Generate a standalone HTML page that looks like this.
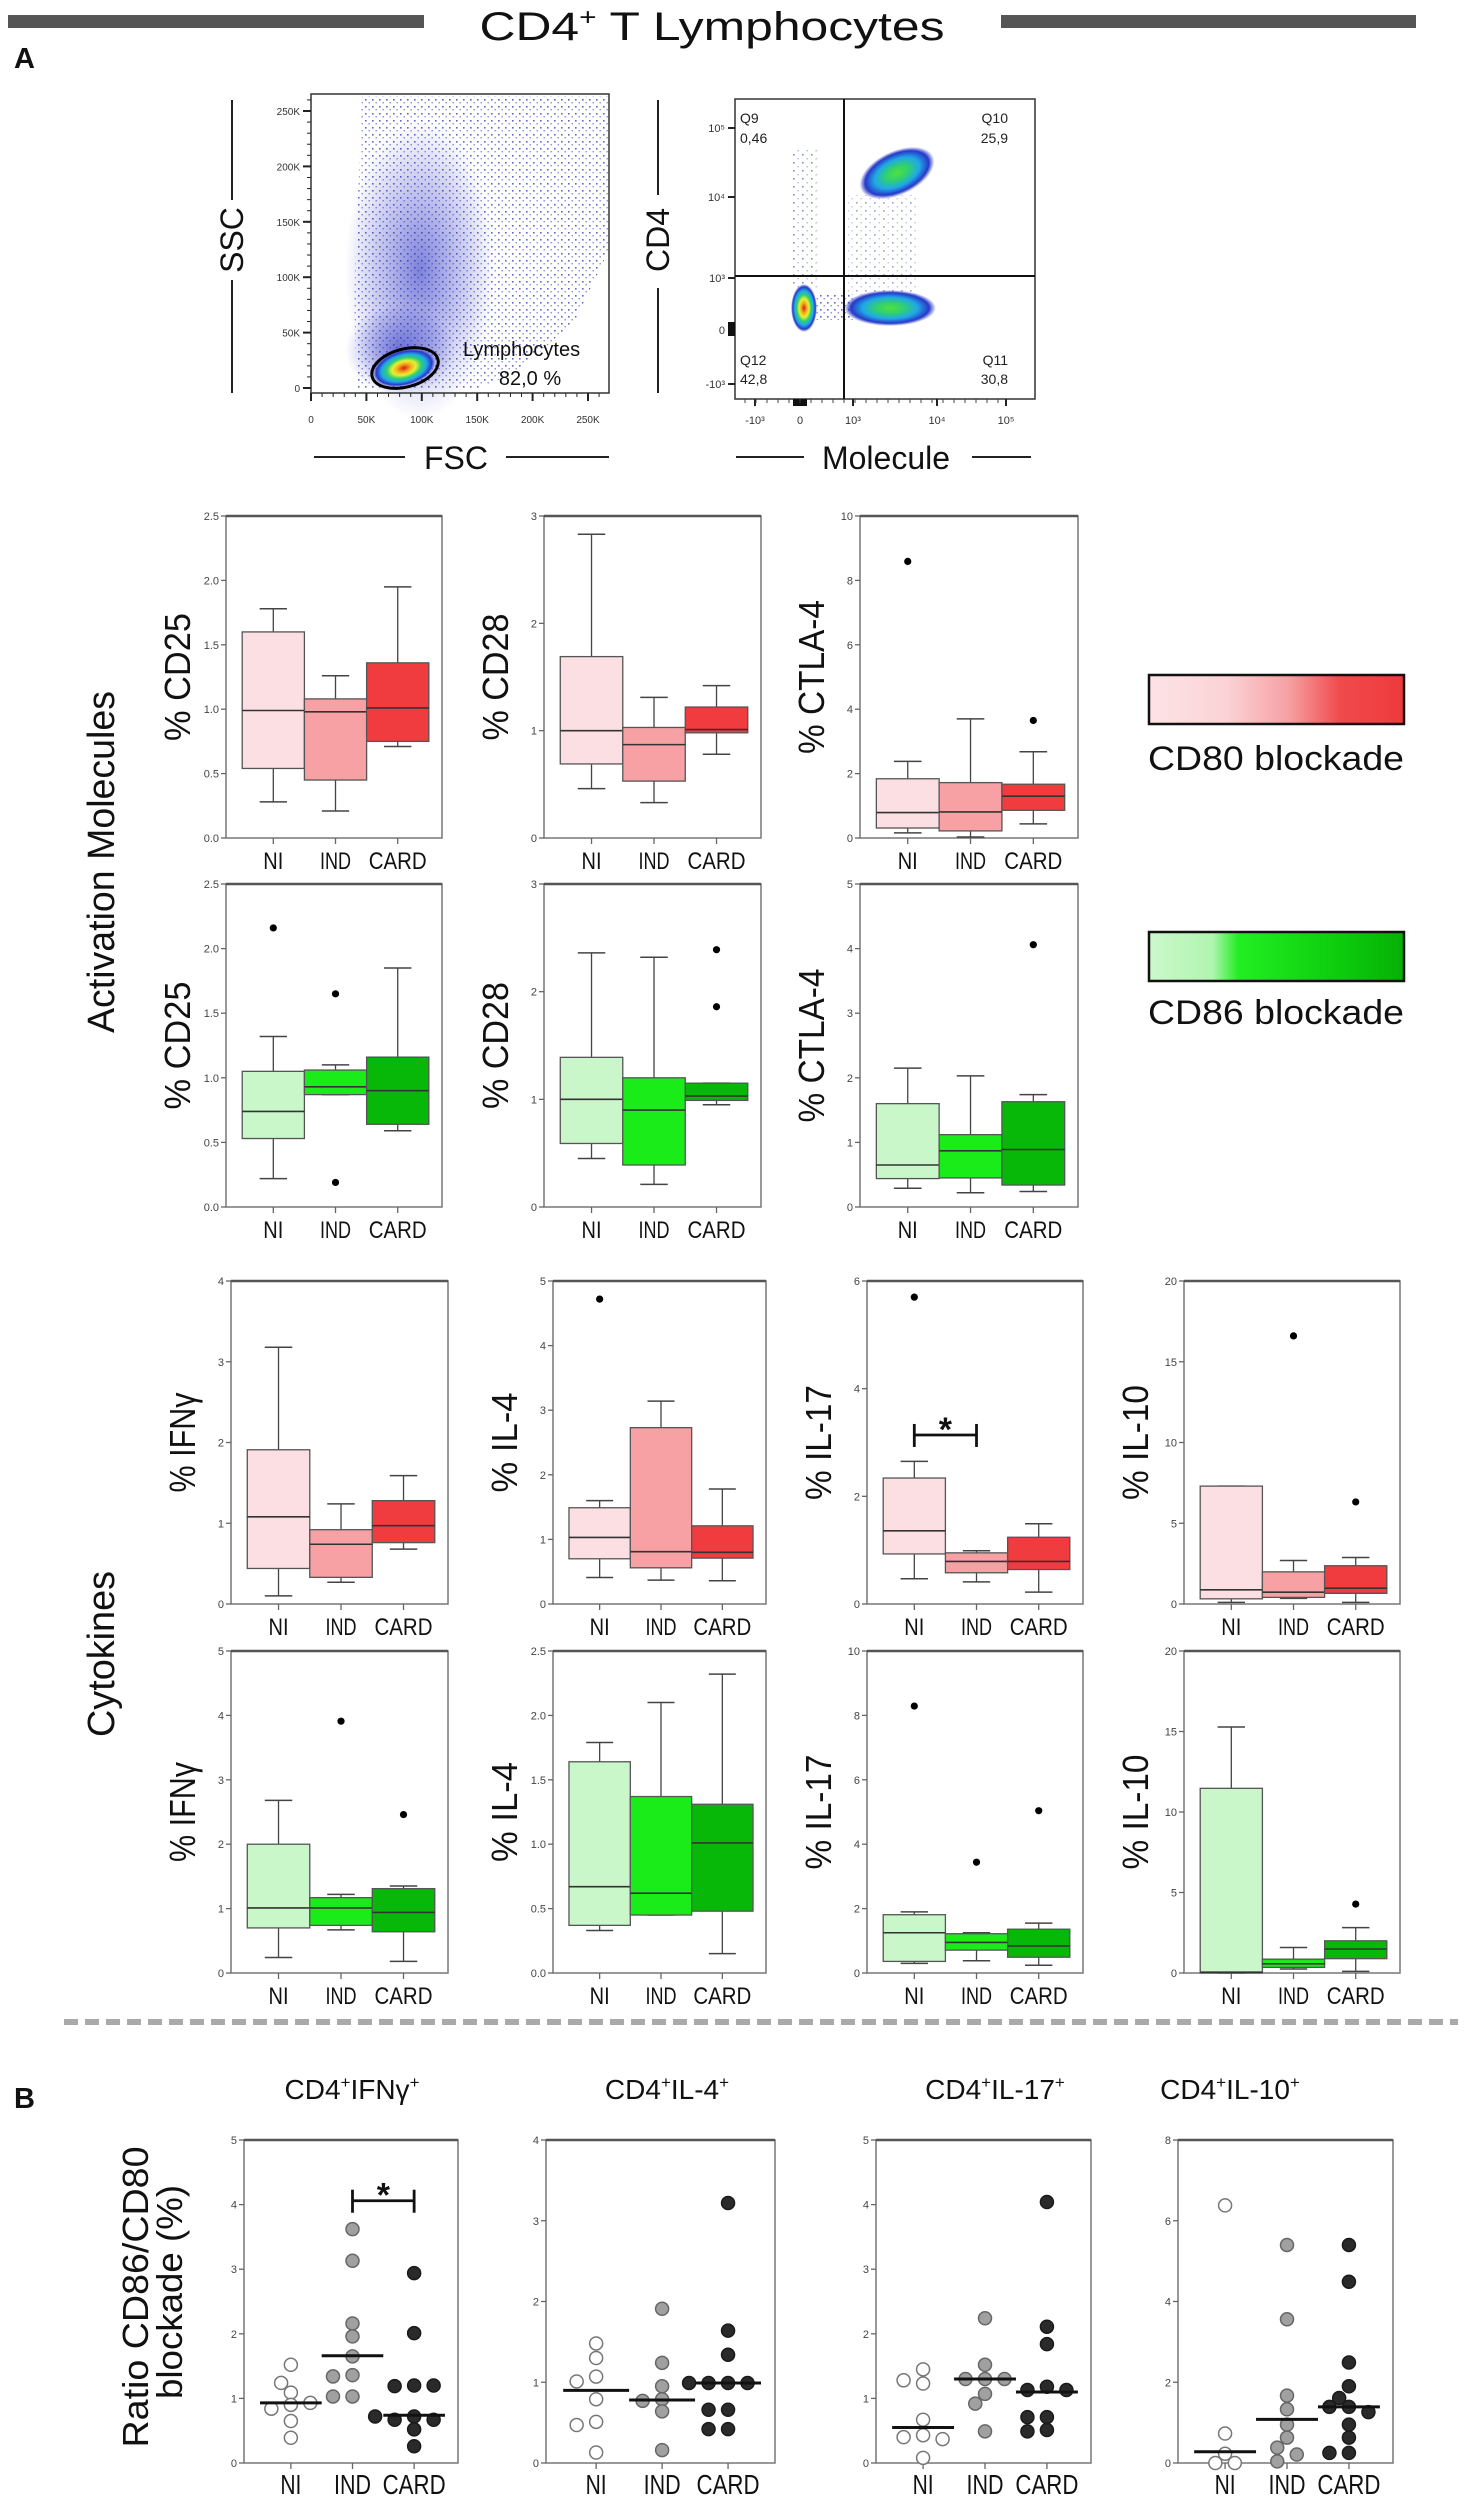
<!DOCTYPE html>
<html><head><meta charset="utf-8"><style>
html,body{margin:0;padding:0;background:#fff;}
svg{display:block;font-family:"Liberation Sans",sans-serif;}
</style></head><body>
<svg id="fig" width="1470" height="2500" viewBox="0 0 1470 2500" xmlns="http://www.w3.org/2000/svg">
<defs>
<radialGradient id="blob" cx="50%" cy="50%" r="50%">
<stop offset="0" stop-color="#e01a10"/><stop offset="0.22" stop-color="#f0b020"/><stop offset="0.38" stop-color="#e8f030"/>
<stop offset="0.55" stop-color="#30d070"/><stop offset="0.72" stop-color="#20a8e8"/><stop offset="0.88" stop-color="#2838c8"/><stop offset="1" stop-color="#2838c8" stop-opacity="0"/>
</radialGradient>
<radialGradient id="blobG" cx="50%" cy="50%" r="50%">
<stop offset="0" stop-color="#50e040"/><stop offset="0.3" stop-color="#30d070"/><stop offset="0.6" stop-color="#20a8e8"/>
<stop offset="0.85" stop-color="#2838c8"/><stop offset="1" stop-color="#2838c8" stop-opacity="0"/>
</radialGradient>
<radialGradient id="haze" cx="50%" cy="50%" r="50%">
<stop offset="0" stop-color="#2a30c0" stop-opacity="0.6"/><stop offset="1" stop-color="#2a30c0" stop-opacity="0"/>
</radialGradient>
<pattern id="dots" width="7" height="7" patternUnits="userSpaceOnUse">
<rect x="1" y="1" width="1.6" height="1.6" fill="#3440c0"/><rect x="4.5" y="4" width="1.4" height="1.4" fill="#6a70d8"/>
</pattern>
<pattern id="dots2" width="9" height="8" patternUnits="userSpaceOnUse">
<rect x="1" y="2" width="1.6" height="1.6" fill="#3440c0"/><rect x="5.5" y="6" width="1.4" height="1.4" fill="#7a80dd"/>
</pattern>
<linearGradient id="redLeg" x1="0" x2="1"><stop offset="0" stop-color="#fde3e5"/><stop offset="0.3" stop-color="#fbd3d6"/><stop offset="0.55" stop-color="#f6a0a3"/><stop offset="0.75" stop-color="#f04a4c"/><stop offset="1" stop-color="#ee3a3c"/></linearGradient>
<linearGradient id="greenLeg" x1="0" x2="1"><stop offset="0" stop-color="#ccf8cc"/><stop offset="0.25" stop-color="#b0f4b0"/><stop offset="0.35" stop-color="#22ee22"/><stop offset="0.75" stop-color="#0ccc0c"/><stop offset="1" stop-color="#06b006"/></linearGradient>
</defs>

<g>
<rect x="8" y="15" width="416" height="13" fill="#555"/>
<rect x="1001" y="15" width="415" height="13" fill="#555"/>
<text x="712" y="40" font-size="40" text-anchor="middle" textLength="465" lengthAdjust="spacingAndGlyphs" fill="#111">CD4<tspan font-size="24" dy="-15">+</tspan><tspan dy="15"> T Lymphocytes</tspan></text>
<text x="14" y="68" font-size="29" font-weight="bold" fill="#111">A</text>
<text x="14" y="2108" font-size="29" font-weight="bold" fill="#111">B</text>
</g>

<!-- Flow plot 1 -->
<g>
<polygon points="357,388 354,300 358,200 362,96 609,96 609,250 575,320 520,370 480,388" fill="url(#dots)" opacity="0.8"/>
<ellipse cx="420" cy="270" rx="75" ry="150" fill="url(#haze)"/>
<ellipse cx="400" cy="350" rx="55" ry="45" fill="url(#haze)"/>
<ellipse cx="404" cy="368" rx="32" ry="18" fill="url(#blob)" transform="rotate(-15 404 368)"/>
<ellipse cx="405" cy="368" rx="34" ry="19" fill="none" stroke="#000" stroke-width="3" transform="rotate(-15 405 368)"/>
<text x="463" y="356" font-size="20" fill="#111">Lymphocytes</text>
<text x="530" y="385" font-size="20" text-anchor="middle" fill="#111">82,0 %</text>
<rect x="311" y="94" width="298" height="299" fill="none" stroke="#333" stroke-width="1.5"/>
<g id="flow1axes"></g>
<line x1="232" y1="100" x2="232" y2="200" stroke="#222" stroke-width="2"/>
<line x1="232" y1="280" x2="232" y2="393" stroke="#222" stroke-width="2"/>
<text transform="translate(243 240) rotate(-90)" font-size="32" text-anchor="middle" fill="#111">SSC</text>
<line x1="314" y1="457" x2="405" y2="457" stroke="#222" stroke-width="2"/>
<line x1="506" y1="457" x2="609" y2="457" stroke="#222" stroke-width="2"/>
<text x="456" y="469" font-size="32" text-anchor="middle" fill="#111">FSC</text>
</g>

<!-- Flow plot 2 -->
<g>
<rect x="792" y="150" width="26" height="140" fill="url(#dots2)" opacity="0.6"/>
<rect x="848" y="195" width="70" height="100" fill="url(#dots2)" opacity="0.5"/>
<rect x="815" y="295" width="40" height="25" fill="url(#dots)" opacity="0.8"/>
<ellipse cx="897" cy="173" rx="40" ry="22" fill="url(#blobG)" transform="rotate(-25 897 173)"/>
<ellipse cx="890" cy="308" rx="46" ry="18" fill="url(#blobG)"/>
<ellipse cx="804" cy="308" rx="13" ry="24" fill="url(#blob)"/>
<rect x="735" y="99" width="300" height="300" fill="none" stroke="#333" stroke-width="1.5"/>
<line x1="844" y1="99" x2="844" y2="399" stroke="#111" stroke-width="2"/>
<line x1="735" y1="276" x2="1035" y2="276" stroke="#111" stroke-width="2"/>
<g font-size="14" fill="#222">
<text x="740" y="123">Q9</text><text x="740" y="143">0,46</text>
<text x="1008" y="123" text-anchor="end">Q10</text><text x="1008" y="143" text-anchor="end">25,9</text>
<text x="740" y="365">Q12</text><text x="740" y="384">42,8</text>
<text x="1008" y="365" text-anchor="end">Q11</text><text x="1008" y="384" text-anchor="end">30,8</text>
</g>
<g id="flow2axes"></g>
<line x1="658" y1="100" x2="658" y2="195" stroke="#222" stroke-width="2"/>
<line x1="658" y1="288" x2="658" y2="393" stroke="#222" stroke-width="2"/>
<text transform="translate(669 240) rotate(-90)" font-size="32" text-anchor="middle" fill="#111">CD4</text>
<line x1="736" y1="457" x2="804" y2="457" stroke="#222" stroke-width="2"/>
<line x1="972" y1="457" x2="1031" y2="457" stroke="#222" stroke-width="2"/>
<text x="886" y="469" font-size="32" text-anchor="middle" fill="#111">Molecule</text>
</g>

<!-- side labels & legends -->
<text transform="translate(114 862) rotate(-90)" font-size="38" text-anchor="middle" textLength="342" lengthAdjust="spacingAndGlyphs" fill="#111">Activation Molecules</text>
<text transform="translate(114 1654) rotate(-90)" font-size="38" text-anchor="middle" textLength="166" lengthAdjust="spacingAndGlyphs" fill="#111">Cytokines</text>
<text transform="translate(148 2297) rotate(-90)" font-size="36" text-anchor="middle" textLength="301" lengthAdjust="spacingAndGlyphs" fill="#111">Ratio CD86/CD80</text>
<text transform="translate(182 2292) rotate(-90)" font-size="36" text-anchor="middle" textLength="214" lengthAdjust="spacingAndGlyphs" fill="#111">blockade (%)</text>

<g>
<rect x="1149" y="675" width="255" height="49" fill="url(#redLeg)" stroke="#111" stroke-width="2.5"/>
<text x="1148" y="770" font-size="34" textLength="256" lengthAdjust="spacingAndGlyphs" fill="#111">CD80 blockade</text>
</g>
<g>
<rect x="1149" y="932" width="255" height="49" fill="url(#greenLeg)" stroke="#111" stroke-width="2.5"/>
<text x="1148" y="1024" font-size="34" textLength="256" lengthAdjust="spacingAndGlyphs" fill="#111">CD86 blockade</text>
</g>

<line x1="64" y1="2022" x2="1458" y2="2022" stroke="#aaa" stroke-width="6" stroke-dasharray="14 7"/>

<g font-size="28" fill="#111">
<text x="352" y="2099" text-anchor="middle">CD4<tspan font-size="17" dy="-11">+</tspan><tspan dy="11">IFNγ</tspan><tspan font-size="17" dy="-11">+</tspan></text>
<text x="667" y="2099" text-anchor="middle">CD4<tspan font-size="17" dy="-11">+</tspan><tspan dy="11">IL-4</tspan><tspan font-size="17" dy="-11">+</tspan></text>
<text x="995" y="2099" text-anchor="middle">CD4<tspan font-size="17" dy="-11">+</tspan><tspan dy="11">IL-17</tspan><tspan font-size="17" dy="-11">+</tspan></text>
<text x="1230" y="2099" text-anchor="middle">CD4<tspan font-size="17" dy="-11">+</tspan><tspan dy="11">IL-10</tspan><tspan font-size="17" dy="-11">+</tspan></text>
</g>
</svg>

<script>
// ---------- DATA ----------
const categories = ['NI', 'IND', 'CARD'];

// Activation molecules, CD80 blockade (whisker low, Q1, median, Q3, whisker high)
const cd25Cd80Stats = [[0.28,0.54,0.99,1.60,1.78],[0.21,0.45,0.98,1.08,1.26],[0.71,0.75,1.01,1.36,1.95]];
const cd25Cd80Outliers = [[],[],[]];
const cd28Cd80Stats = [[0.46,0.69,1.00,1.69,2.83],[0.33,0.53,0.87,1.03,1.31],[0.78,0.98,1.01,1.22,1.42]];
const cd28Cd80Outliers = [[],[],[]];
const ctla4Cd80Stats = [[0.16,0.31,0.79,1.84,2.38],[0.03,0.22,0.81,1.72,3.70],[0.44,0.86,1.30,1.67,2.68]];
const ctla4Cd80Outliers = [[8.59],[],[3.65]];
// Activation molecules, CD86 blockade
const cd25Cd86Stats = [[0.22,0.53,0.74,1.05,1.32],[0.87,0.87,0.93,1.06,1.10],[0.59,0.64,0.90,1.16,1.85]];
const cd25Cd86Outliers = [[2.16],[1.65,0.19],[]];
const cd28Cd86Stats = [[0.45,0.59,1.00,1.39,2.36],[0.21,0.39,0.90,1.20,2.32],[0.95,0.99,1.03,1.15,1.15]];
const cd28Cd86Outliers = [[],[],[2.39,1.86]];
const ctla4Cd86Stats = [[0.29,0.44,0.65,1.60,2.15],[0.22,0.45,0.87,1.12,2.03],[0.24,0.34,0.89,1.63,1.74]];
const ctla4Cd86Outliers = [[],[],[4.06]];
// Cytokines, CD80 blockade
const ifngCd80Stats = [[0.10,0.44,1.08,1.91,3.18],[0.27,0.33,0.74,0.92,1.24],[0.68,0.76,0.97,1.28,1.59]];
const ifngCd80Outliers = [[],[],[]];
const il4Cd80Stats = [[0.41,0.70,1.03,1.49,1.60],[0.37,0.56,0.81,2.73,3.14],[0.36,0.71,0.80,1.21,1.78]];
const il4Cd80Outliers = [[4.72],[],[]];
const il17Cd80Stats = [[0.47,0.93,1.36,2.34,2.65],[0.41,0.58,0.79,0.95,0.99],[0.22,0.64,0.79,1.24,1.49]];
const il17Cd80Outliers = [[5.70],[],[]];
const il10Cd80Stats = [[0.10,0.32,0.88,7.30,7.30],[0.35,0.41,0.73,1.99,2.69],[0.10,0.66,0.98,2.37,2.88]];
const il10Cd80Outliers = [[],[16.6],[6.32]];
// Cytokines, CD86 blockade
const ifngCd86Stats = [[0.24,0.70,1.01,2.00,2.68],[0.67,0.74,1.01,1.17,1.22],[0.18,0.64,0.94,1.31,1.35]];
const ifngCd86Outliers = [[],[3.91],[2.46]];
const il4Cd86Stats = [[0.33,0.37,0.67,1.64,1.79],[0.45,0.45,0.62,1.37,2.10],[0.15,0.48,1.01,1.31,2.32]];
const il4Cd86Outliers = [[],[],[]];
const il17Cd86Stats = [[0.30,0.36,1.25,1.81,1.90],[0.38,0.71,0.95,1.22,1.25],[0.24,0.49,0.84,1.36,1.55]];
const il17Cd86Outliers = [[8.29],[3.44],[5.04]];
const il10Cd86Stats = [[0.00,0.00,0.05,11.47,15.28],[0.25,0.35,0.57,0.86,1.58],[0.10,0.89,1.49,2.00,2.82]];
const il10Cd86Outliers = [[],[],[4.28]];

// Tick labels
const ticksCd25 = ['0.0','0.5','1.0','1.5','2.0','2.5'];
const ticksCd28 = ['0','1','2','3'];
const ticksCtla4Top = ['0','2','4','6','8','10'];
const ticks0to5 = ['0','1','2','3','4','5'];
const ticks0to4 = ['0','1','2','3','4'];
const ticksIl17Top = ['0','2','4','6'];
const ticksIl10 = ['0','5','10','15','20'];
const ticksIl4Bottom = ['0.0','0.5','1.0','1.5','2.0','2.5'];
const ticksIl17Bottom = ['0','2','4','6','8','10'];
const ticksRatioIl10 = ['0','2','4','6','8'];

// Section B: ratio CD86/CD80 per animal
const ratioIfngNI = [1.09,1.24,1.52,0.90,0.84,0.93,0.65,0.39];
const ratioIfngIND = [3.62,3.13,2.16,1.96,1.65,1.36,1.34,1.03,1.03];
const ratioIfngCARD = [2.94,2.01,1.20,1.19,1.20,0.72,0.67,0.67,0.72,0.52,0.26];
const ratioIfngMedians = [0.93,1.66,0.74];
const ratioIl4NI = [1.30,1.48,1.07,1.01,0.79,0.51,0.47,0.13];
const ratioIl4IND = [1.91,1.24,0.95,0.79,0.77,0.64,0.16];
const ratioIl4CARD = [3.22,1.64,1.34,0.99,0.99,0.99,0.99,0.66,0.66,0.42,0.42];
const ratioIl4Medians = [0.90,0.78,0.99];
const ratioIl17NI = [1.45,1.23,1.28,0.67,0.43,0.40,0.37,0.08];
const ratioIl17IND = [2.24,1.52,1.30,1.30,1.30,1.07,0.92,0.49];
const ratioIl17CARD = [4.04,2.11,1.84,1.18,1.13,1.13,0.71,0.71,0.51,0.49];
const ratioIl17Medians = [0.55,1.30,1.10];
const ratioIl10NI = [6.38,0.73,0.23,0.0,0.0];
const ratioIl10IND = [5.40,3.56,1.67,1.33,0.95,0.63,0.38,0.21,0.04];
const ratioIl10CARD = [5.40,4.49,2.49,1.90,1.61,1.39,1.39,1.26,0.95,0.63,0.25,0.25];
const ratioIl10Medians = [0.28,1.08,1.39];

// Flow axes ticks
const fscTicks = ['0','50K','100K','150K','200K','250K'];
const flowLogTickLabels = ['-10³','0','10³','10⁴','10⁵'];
const flowLogYPositions = [384,330,278,197,128];
const flowLogXPositions = [755,800,853,937,1006];

// ---------- DRAWING ----------
const NS = 'http://www.w3.org/2000/svg';
const svg = document.getElementById('fig');
function mk(tag, attrs, parent) {
  const e = document.createElementNS(NS, tag);
  for (const k in attrs) e.setAttribute(k, attrs[k]);
  (parent || svg).appendChild(e);
  return e;
}
const RED = ['#fcdfe2', '#f7a1a4', '#f03c3e'];
const GREEN = ['#c9f7c9', '#1aec1a', '#08b808'];

function frame(g, p, ticks) {
  const W = p.x1 - p.x0, H = p.y1 - p.y0;
  const vmax = parseFloat(ticks[ticks.length - 1]);
  const y = v => p.y1 - v / vmax * H;
  const bw = 0.288 * W;
  const cx = i => p.x0 + 0.075 * W + (i + 0.5) * bw;
  const fr = mk('rect', {x: p.x0, y: p.y0, width: W, height: H, fill: 'none', stroke: '#777', 'stroke-width': 1.5}, g);
  
  
  mk('line', {x1: p.x0, y1: p.y0, x2: p.x1, y2: p.y0, stroke: '#555', 'stroke-width': 2.5}, g);
  ticks.forEach(t => {
    const v = parseFloat(t);
    mk('line', {x1: p.x0 - 5, y1: y(v), x2: p.x0, y2: y(v), stroke: '#666', 'stroke-width': 1.3}, g);
    const tl = mk('text', {x: p.x0 - 7, y: y(v) + 4, 'font-size': 11, 'text-anchor': 'end', fill: '#444'}, g);
    tl.textContent = t;
    
    
  });
  categories.forEach((c, i) => {
    mk('line', {x1: cx(i), y1: p.y1, x2: cx(i), y2: p.y1 + 6, stroke: '#666', 'stroke-width': 1.3}, g);
    const lens = p.big ? [21, 37, 63] : [20, 31, 58];
    const cl = mk('text', {x: cx(i), y: p.y1 + 31, 'font-size': p.big ? 28 : 24, 'text-anchor': 'middle', fill: '#111', textLength: lens[i], lengthAdjust: 'spacingAndGlyphs'}, g);
    cl.textContent = c;
    
    
  });
  if (p.label) {
    const yl = mk('text', {transform: `translate(${p.x0 - 36} ${(p.y0 + p.y1) / 2}) rotate(-90)`, 'font-size': 36, 'text-anchor': 'middle', fill: '#111', textLength: p.labelLen, lengthAdjust: 'spacingAndGlyphs'}, g);
    yl.textContent = p.label;
    
    
  }
  return {y, cx, bw};
}

function boxPanel(p) {
  const g = mk('g', {});
  
  
  const {y, cx, bw} = frame(g, p, p.ticks);
  p.stats.forEach((s, i) => {
    const [wlo, q1, med, q3, whi] = s;
    const c = cx(i), cap = bw * 0.22;
    const bg = mk('g', {}, g);
    
    
    mk('line', {x1: c, y1: y(wlo), x2: c, y2: y(whi), stroke: '#444', 'stroke-width': 1.3}, bg);
    mk('line', {x1: c - cap, y1: y(whi), x2: c + cap, y2: y(whi), stroke: '#444', 'stroke-width': 1.5}, bg);
    mk('line', {x1: c - cap, y1: y(wlo), x2: c + cap, y2: y(wlo), stroke: '#444', 'stroke-width': 1.5}, bg);
    mk('rect', {x: c - bw / 2, y: y(q3), width: bw, height: Math.max(1, y(q1) - y(q3)), fill: p.colors[i], stroke: '#555', 'stroke-width': 1.3}, bg);
    mk('line', {x1: c - bw / 2, y1: y(med), x2: c + bw / 2, y2: y(med), stroke: '#333', 'stroke-width': 1.6}, bg);
    p.outliers[i].forEach(o => {
      const oc = mk('circle', {cx: c, cy: y(o), r: 3.6, fill: '#000'}, bg);
      
      
    });
  });
  if (p.sig) bracket(g, cx(p.sig[0]), cx(p.sig[1]), y(p.sig[2]));
}

function bracket(g, xa, xb, yy) {
  const bk = mk('g', {}, g);
  
  
  mk('line', {x1: xa, y1: yy, x2: xb, y2: yy, stroke: '#111', 'stroke-width': 2.8}, bk);
  mk('line', {x1: xa, y1: yy - 11, x2: xa, y2: yy + 12, stroke: '#111', 'stroke-width': 2.8}, bk);
  mk('line', {x1: xb, y1: yy - 11, x2: xb, y2: yy + 12, stroke: '#111', 'stroke-width': 2.8}, bk);
  const st = mk('text', {x: (xa + xb) / 2, y: yy + 6, 'font-size': 34, 'font-weight': 'bold', 'text-anchor': 'middle', fill: '#111'}, bk);
  st.textContent = '*';
  
  
}

function dotPanel(p) {
  const g = mk('g', {});
  
  
  const {y, cx, bw} = frame(g, p, p.ticks);
  const fills = ['#ffffff', '#a0a0a0', '#2a2a2a'];
  const strokes = ['#777', '#666', '#1a1a1a'];
  const r = 6.5;
  p.groups.forEach((vals, i) => {
    const c = cx(i);
    const placed = [];
    vals.forEach(v => {
      const py = y(v);
      let ox = c;
      const cands = [0, -1, 1, -2, 2, -3, 3, -4, 4];
      for (const k of cands) {
        const tx = c + k * (r * 1.5);
        if (placed.every(q => Math.hypot(q[0] - tx, q[1] - py) >= 2 * r - 1)) { ox = tx; break; }
      }
      placed.push([ox, py]);
      const pt = mk('circle', {cx: ox, cy: py, r: r, fill: fills[i], stroke: strokes[i], 'stroke-width': 1.5}, g);
      
      
    });
    const ml = mk('line', {x1: c - bw * 0.5, y1: y(p.medians[i]), x2: c + bw * 0.5, y2: y(p.medians[i]), stroke: '#111', 'stroke-width': 3}, g);
    
    
  });
  if (p.sig) bracket(g, cx(p.sig[0]), cx(p.sig[1]), y(p.sig[2]));
}

// Activation rows
const aCols = [[226, 442], [544, 761], [860, 1078]];
const aRows = [[516, 838], [884, 1207]];
boxPanel({name: 'cd25-cd80-panel', x0: aCols[0][0], x1: aCols[0][1], y0: aRows[0][0], y1: aRows[0][1], ticks: ticksCd25, stats: cd25Cd80Stats, outliers: cd25Cd80Outliers, colors: RED, label: '% CD25', labelLen: 128});
boxPanel({name: 'cd28-cd80-panel', x0: aCols[1][0], x1: aCols[1][1], y0: aRows[0][0], y1: aRows[0][1], ticks: ticksCd28, stats: cd28Cd80Stats, outliers: cd28Cd80Outliers, colors: RED, label: '% CD28', labelLen: 127});
boxPanel({name: 'ctla4-cd80-panel', x0: aCols[2][0], x1: aCols[2][1], y0: aRows[0][0], y1: aRows[0][1], ticks: ticksCtla4Top, stats: ctla4Cd80Stats, outliers: ctla4Cd80Outliers, colors: RED, label: '% CTLA-4', labelLen: 154});
boxPanel({name: 'cd25-cd86-panel', x0: aCols[0][0], x1: aCols[0][1], y0: aRows[1][0], y1: aRows[1][1], ticks: ticksCd25, stats: cd25Cd86Stats, outliers: cd25Cd86Outliers, colors: GREEN, label: '% CD25', labelLen: 128});
boxPanel({name: 'cd28-cd86-panel', x0: aCols[1][0], x1: aCols[1][1], y0: aRows[1][0], y1: aRows[1][1], ticks: ticksCd28, stats: cd28Cd86Stats, outliers: cd28Cd86Outliers, colors: GREEN, label: '% CD28', labelLen: 127});
boxPanel({name: 'ctla4-cd86-panel', x0: aCols[2][0], x1: aCols[2][1], y0: aRows[1][0], y1: aRows[1][1], ticks: ticks0to5, stats: ctla4Cd86Stats, outliers: ctla4Cd86Outliers, colors: GREEN, label: '% CTLA-4', labelLen: 154});

// Cytokine rows
const cCols = [[231, 448], [553, 766], [867, 1083], [1184, 1400]];
const cRows = [[1281, 1604], [1651, 1973]];
boxPanel({name: 'ifng-cd80-panel', x0: cCols[0][0], x1: cCols[0][1], y0: cRows[0][0], y1: cRows[0][1], ticks: ticks0to4, stats: ifngCd80Stats, outliers: ifngCd80Outliers, colors: RED, label: '% IFNγ', labelLen: 100});
boxPanel({name: 'il4-cd80-panel', x0: cCols[1][0], x1: cCols[1][1], y0: cRows[0][0], y1: cRows[0][1], ticks: ticks0to5, stats: il4Cd80Stats, outliers: il4Cd80Outliers, colors: RED, label: '% IL-4', labelLen: 100});
boxPanel({name: 'il17-cd80-panel', x0: cCols[2][0], x1: cCols[2][1], y0: cRows[0][0], y1: cRows[0][1], ticks: ticksIl17Top, stats: il17Cd80Stats, outliers: il17Cd80Outliers, colors: RED, label: '% IL-17', labelLen: 115, sig: [0, 1, 3.14]});
boxPanel({name: 'il10-cd80-panel', x0: cCols[3][0], x1: cCols[3][1], y0: cRows[0][0], y1: cRows[0][1], ticks: ticksIl10, stats: il10Cd80Stats, outliers: il10Cd80Outliers, colors: RED, label: '% IL-10', labelLen: 115});
boxPanel({name: 'ifng-cd86-panel', x0: cCols[0][0], x1: cCols[0][1], y0: cRows[1][0], y1: cRows[1][1], ticks: ticks0to5, stats: ifngCd86Stats, outliers: ifngCd86Outliers, colors: GREEN, label: '% IFNγ', labelLen: 100});
boxPanel({name: 'il4-cd86-panel', x0: cCols[1][0], x1: cCols[1][1], y0: cRows[1][0], y1: cRows[1][1], ticks: ticksIl4Bottom, stats: il4Cd86Stats, outliers: il4Cd86Outliers, colors: GREEN, label: '% IL-4', labelLen: 100});
boxPanel({name: 'il17-cd86-panel', x0: cCols[2][0], x1: cCols[2][1], y0: cRows[1][0], y1: cRows[1][1], ticks: ticksIl17Bottom, stats: il17Cd86Stats, outliers: il17Cd86Outliers, colors: GREEN, label: '% IL-17', labelLen: 115});
boxPanel({name: 'il10-cd86-panel', x0: cCols[3][0], x1: cCols[3][1], y0: cRows[1][0], y1: cRows[1][1], ticks: ticksIl10, stats: il10Cd86Stats, outliers: il10Cd86Outliers, colors: GREEN, label: '% IL-10', labelLen: 115});

// Section B
const bCols = [[244, 458], [546, 775], [876, 1091], [1178, 1393]];
const bRow = [2140, 2463];
dotPanel({name: 'ratio-ifng-panel', big: true, x0: bCols[0][0], x1: bCols[0][1], y0: bRow[0], y1: bRow[1], ticks: ticks0to5, groups: [ratioIfngNI, ratioIfngIND, ratioIfngCARD], medians: ratioIfngMedians, sig: [1, 2, 4.06]});
dotPanel({name: 'ratio-il4-panel', big: true, x0: bCols[1][0], x1: bCols[1][1], y0: bRow[0], y1: bRow[1], ticks: ticks0to4, groups: [ratioIl4NI, ratioIl4IND, ratioIl4CARD], medians: ratioIl4Medians});
dotPanel({name: 'ratio-il17-panel', big: true, x0: bCols[2][0], x1: bCols[2][1], y0: bRow[0], y1: bRow[1], ticks: ticks0to5, groups: [ratioIl17NI, ratioIl17IND, ratioIl17CARD], medians: ratioIl17Medians});
dotPanel({name: 'ratio-il10-panel', big: true, x0: bCols[3][0], x1: bCols[3][1], y0: bRow[0], y1: bRow[1], ticks: ticksRatioIl10, groups: [ratioIl10NI, ratioIl10IND, ratioIl10CARD], medians: ratioIl10Medians});

// Flow 1 axes
(function () {
  const g = document.getElementById('flow1axes');
  const xs = v => 311 + v * 1.108, ys = v => 388 - v * 1.108;
  for (let k = 0; k <= 260; k += 10) {
    const major = k % 50 === 0;
    mk('line', {x1: xs(k), y1: 393, x2: xs(k), y2: 393 + (major ? 8 : 4), stroke: '#222', 'stroke-width': major ? 2 : 1}, g);
    mk('line', {x1: 311, y1: ys(k), x2: 311 - (major ? 8 : 4), y2: ys(k), stroke: '#222', 'stroke-width': major ? 2 : 1}, g);
  }
  fscTicks.forEach(t => {
    const v = parseFloat(t) || 0;
    const a = mk('text', {x: xs(v), y: 423, 'font-size': 10, 'text-anchor': 'middle', fill: '#333'}, g);
    a.textContent = t;
    
    
    const b = mk('text', {x: 300, y: ys(v) + 4, 'font-size': 10, 'text-anchor': 'end', fill: '#333'}, g);
    b.textContent = t;
    
    
  });
})();
// Flow 2 axes
(function () {
  const g = document.getElementById('flow2axes');
  flowLogTickLabels.forEach((t, i) => {
    const yy = flowLogYPositions[i], xx = flowLogXPositions[i];
    mk('line', {x1: 735, y1: yy, x2: 728, y2: yy, stroke: '#222', 'stroke-width': 2}, g);
    mk('line', {x1: xx, y1: 399, x2: xx, y2: 406, stroke: '#222', 'stroke-width': 2}, g);
    const a = mk('text', {x: 725, y: yy + 4, 'font-size': 11, 'text-anchor': 'end', fill: '#333'}, g);
    a.textContent = t;
    
    
    const b = mk('text', {x: xx, y: 424, 'font-size': 11, 'text-anchor': 'middle', fill: '#333'}, g);
    b.textContent = t;
    
    
  });
  mk('rect', {x: 793, y: 399, width: 14, height: 7, fill: '#111'}, g);
  mk('rect', {x: 728, y: 322, width: 7, height: 14, fill: '#111'}, g);
  for (let k = 0; k < 24; k++) {
    mk('line', {x1: 745 + k * 11, y1: 399, x2: 745 + k * 11, y2: 403, stroke: '#444', 'stroke-width': 1}, g);
  }
})();
</script>
</body></html>
